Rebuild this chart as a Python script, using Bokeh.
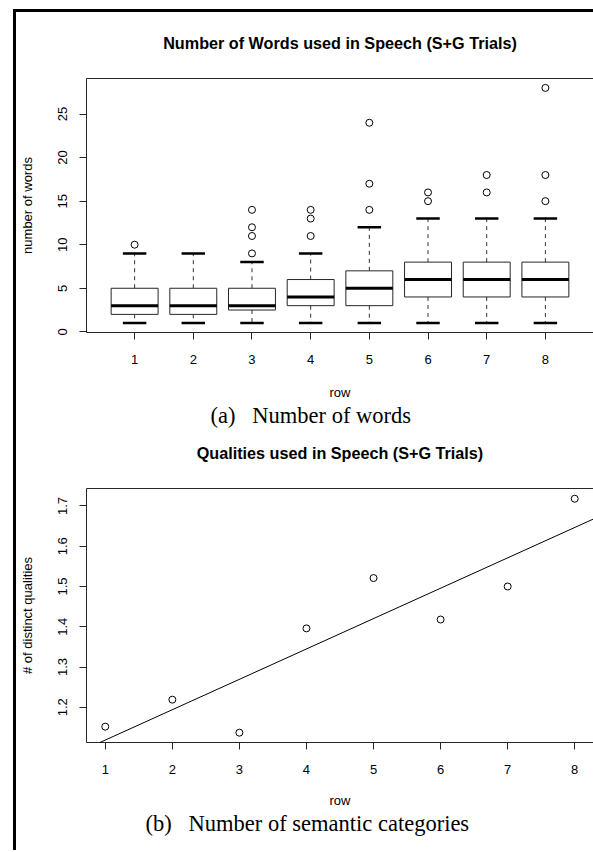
import numpy as np
from bokeh.plotting import figure
from bokeh.layouts import column
from bokeh.models import (ColumnDataSource, Range1d, FixedTicker, LinearAxis,
                          Title, Slope)
from bokeh.embed import file_html
from bokeh.resources import INLINE

# ---------------- data: (a) number of words per row (boxplot stats) ----------
rows = [1, 2, 3, 4, 5, 6, 7, 8]
whisker_low = [1, 1, 1, 1, 1, 1, 1, 1]
q1 = [2, 2, 2.5, 3, 3, 4, 4, 4]
median = [3, 3, 3, 4, 5, 6, 6, 6]
q3 = [5, 5, 5, 6, 7, 8, 8, 8]
whisker_high = [9, 9, 8, 9, 12, 13, 13, 13]
outlier_row = [1, 3, 3, 3, 3, 4, 4, 4, 5, 5, 5, 6, 6, 7, 7, 8, 8, 8]
outlier_val = [10, 9, 11, 12, 14, 11, 13, 14, 14, 17, 24, 15, 16, 16, 18, 15, 18, 28]
words_yticks = [0, 5, 10, 15, 20, 25]

# ---------------- data: (b) distinct qualities per row -----------------------
q_rows = [1, 2, 3, 4, 5, 6, 7, 8]
q_vals = [1.152, 1.219, 1.137, 1.396, 1.521, 1.418, 1.500, 1.718]
qual_yticks = [1.2, 1.3, 1.4, 1.5, 1.6, 1.7]

title_a = "Number of Words used in Speech (S+G Trials)"
title_b = "Qualities used in Speech (S+G Trials)"
GAP = "\u00a0\u00a0\u00a0"
caption_a = "(a)" + GAP + "Number of words"
caption_b = "(b)" + GAP + "Number of semantic categories"

SANS = "Liberation Sans"
SERIF = "Liberation Serif"
LINE = "#262626"
W = 577


def style_axes(p, xticks, yticks, ylabel, title, row_standoff, title_standoff):
    xa = LinearAxis(ticker=FixedTicker(ticks=xticks), axis_label="row")
    ya = LinearAxis(ticker=FixedTicker(ticks=yticks), axis_label=ylabel)
    top = LinearAxis(ticker=FixedTicker(ticks=[]), axis_label=title)
    p.add_layout(xa, "below")
    p.add_layout(ya, "left")
    p.add_layout(top, "above")
    for ax in (xa, ya, top):
        ax.axis_line_color = LINE
        ax.axis_line_width = 1
        ax.major_tick_line_color = LINE
        ax.major_tick_out = 7
        ax.major_tick_in = 0
        ax.minor_tick_line_color = None
        ax.major_label_text_font = SANS
        ax.major_label_text_font_size = "13px"
        ax.major_label_text_color = "black"
        ax.axis_label_text_font = SANS
        ax.axis_label_text_font_size = "13px"
        ax.axis_label_text_font_style = "normal"
        ax.axis_label_text_color = "black"
    # plot title carried by the tick-less top axis
    top.major_tick_out = 0
    top.major_label_text_font_size = "0px"
    top.major_label_standoff = 0
    top.axis_label_text_font_size = "16.2px"
    top.axis_label_text_font_style = "bold"
    top.axis_label_standoff = title_standoff
    xa.major_label_standoff = 15
    xa.axis_label_standoff = row_standoff
    ya.major_label_orientation = "vertical"
    ya.major_label_standoff = 12
    ya.axis_label_standoff = 21


def make_fig(height, top_b, bottom_b, xr, yr):
    p = figure(width=W, height=height, output_backend="svg", toolbar_location=None,
               x_range=Range1d(*xr), y_range=Range1d(*yr),
               x_axis_type=None, y_axis_type=None,
               min_border_left=70, min_border_right=0,
               min_border_top=top_b, min_border_bottom=bottom_b)
    p.outline_line_color = None
    p.xgrid.visible = False
    p.ygrid.visible = False
    p.background_fill_color = "white"
    p.border_fill_color = "white"
    return p


def add_caption(p, text, left_offset):
    p.add_layout(Title(text=text, align="left", offset=left_offset, vertical_align="top",
                       text_font=SERIF, text_font_size="22.5px", text_font_style="normal",
                       text_color="black", standoff=0), "below")


# ---------------- figure (a) ----------------
p1 = make_fig(418, 66, 98, (0.18, 8.82), (-0.08, 29.08))
style_axes(p1, rows, words_yticks, "number of words", title_a, 18, 27)
add_caption(p1, caption_a, 124)

src = ColumnDataSource(dict(
    x=rows, lo=whisker_low, q1=q1, med=median, q3=q3, hi=whisker_high,
    xl=[r - 0.4 for r in rows], xr=[r + 0.4 for r in rows],
    cl=[r - 0.2 for r in rows], cr=[r + 0.2 for r in rows]))

p1.segment(x0="x", y0="q3", x1="x", y1="hi", source=src, line_color="#333333",
           line_width=1, line_dash="4 4")
p1.segment(x0="x", y0="q1", x1="x", y1="lo", source=src, line_color="#333333",
           line_width=1, line_dash="4 4")
p1.segment(x0="cl", y0="hi", x1="cr", y1="hi", source=src, line_color="black", line_width=2.5)
p1.segment(x0="cl", y0="lo", x1="cr", y1="lo", source=src, line_color="black", line_width=2.5)
p1.vbar(x="x", width=0.8, bottom="q1", top="q3", source=src, fill_color="white",
        line_color=LINE, line_width=1)
p1.segment(x0="xl", y0="med", x1="xr", y1="med", source=src, line_color="black", line_width=3)
p1.scatter(outlier_row, outlier_val, marker="circle", size=7, fill_color=None,
           line_color="black", line_width=1)

# ---------------- figure (b) ----------------
p2 = make_fig(420, 58, 108, (0.72, 8.28), (1.1126, 1.7434))
style_axes(p2, q_rows, qual_yticks, "# of distinct qualities", title_b, 16, 27)
add_caption(p2, caption_b, 59)

slope, intercept = np.polyfit(q_rows, q_vals, 1)
p2.add_layout(Slope(gradient=float(slope), y_intercept=float(intercept),
                    line_color="black", line_width=1))
p2.scatter(q_rows, q_vals, marker="circle", size=7, fill_color=None,
           line_color="black", line_width=1)

# page frame rules (left + top) drawn as the container's border
layout = column(p1, p2, spacing=0,
                styles={"border-left": "3px solid black", "border-top": "3px solid black",
                        "margin-left": "13px", "margin-top": "9px"})
open("out.html", "w").write(file_html(layout, INLINE))
